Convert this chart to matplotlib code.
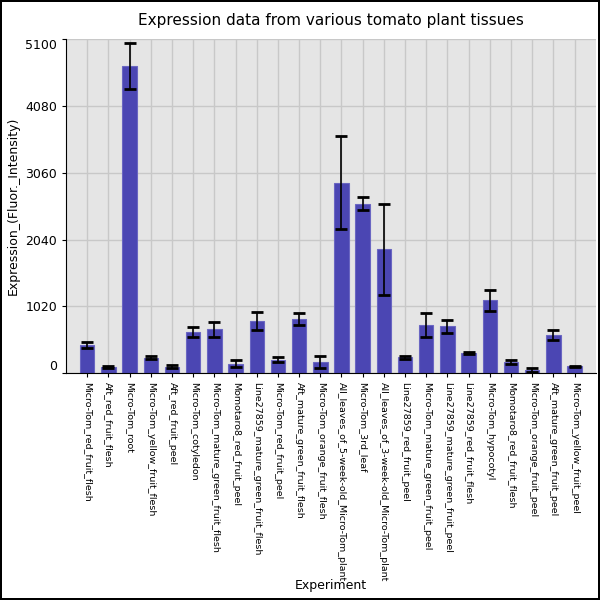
import matplotlib
matplotlib.use("Agg")
import matplotlib.pyplot as plt
import numpy as np

experiments = [
    "Micro-Tom_red_fruit_flesh",
    "Aft_red_fruit_flesh",
    "Micro-Tom_root",
    "Micro-Tom_yellow_fruit_flesh",
    "Aft_red_fruit_peel",
    "Micro-Tom_cotyledon",
    "Micro-Tom_mature_green_fruit_flesh",
    "Momotaro8_red_fruit_peel",
    "Line27859_mature_green_fruit_flesh",
    "Micro-Tom_red_fruit_peel",
    "Aft_mature_green_fruit_flesh",
    "Micro-Tom_orange_fruit_flesh",
    "All_leaves_of_5-week-old_Micro-Tom_plant",
    "Micro-Tom_3rd_leaf",
    "All_leaves_of_3-week-old_Micro-Tom_plant",
    "Line27859_red_fruit_peel",
    "Micro-Tom_mature_green_fruit_peel",
    "Line27859_mature_green_fruit_peel",
    "Line27859_red_fruit_flesh",
    "Micro-Tom_hypocotyl",
    "Momotaro8_red_fruit_flesh",
    "Micro-Tom_orange_fruit_peel",
    "Aft_mature_green_fruit_peel",
    "Micro-Tom_yellow_fruit_peel",
]
expression = [426, 100, 4690, 235, 100, 625, 672, 145, 795, 205, 830, 170,
              2908, 2588, 1890, 240, 735, 716, 312, 1110, 170, 50, 585, 106]
errors = [46, 15, 355, 20, 18, 80, 112, 56, 143, 36, 87, 90,
          713, 94, 690, 28, 183, 96, 12, 155, 30, 30, 75, 10]
yticks = [0, 1020, 2040, 3060, 4080, 5100]

fig = plt.figure(figsize=(6, 6), dpi=100)
fig.patch.set_edgecolor("black")
fig.patch.set_linewidth(1.5)
ax = fig.add_axes([0.11, 0.378, 0.883, 0.557])
ax.set_facecolor("#e5e5e5")

x = np.arange(len(experiments))
ax.bar(x, expression, width=0.68, color="#4b46b3", edgecolor="#6a66c2",
       linewidth=0.8, zorder=2)
ax.errorbar(x, expression, yerr=errors, fmt="none", ecolor="black",
            elinewidth=1.2, capsize=4, capthick=2, zorder=3)

ax.set_xlim(-1, len(experiments))
ax.set_ylim(0, 5100)
ax.set_yticks(yticks)
ax.set_yticklabels([str(t) for t in yticks], fontsize=9)
labels = ax.get_yticklabels()
labels[0].set_va("bottom")
labels[-1].set_va("top")
ax.set_xticks(x)
ax.set_xticklabels(experiments, rotation=-90, fontsize=6.8, va="top", ha="center")
ax.tick_params(axis="x", length=3)
ax.tick_params(axis="y", length=3)

ax.grid(True, color="#c8c8c8", linewidth=1, zorder=0)
ax.set_axisbelow(True)
for s in ["top", "right"]:
    ax.spines[s].set_visible(False)

ax.set_title("Expression data from various tomato plant tissues", fontsize=11, pad=10)
ax.set_ylabel("Expression_(Fluor._Intensity)", fontsize=9)
ax.set_xlabel("Experiment", fontsize=9)
ax.xaxis.set_label_coords(0.5, -0.615)

fig.savefig("out.png", dpi=100)
